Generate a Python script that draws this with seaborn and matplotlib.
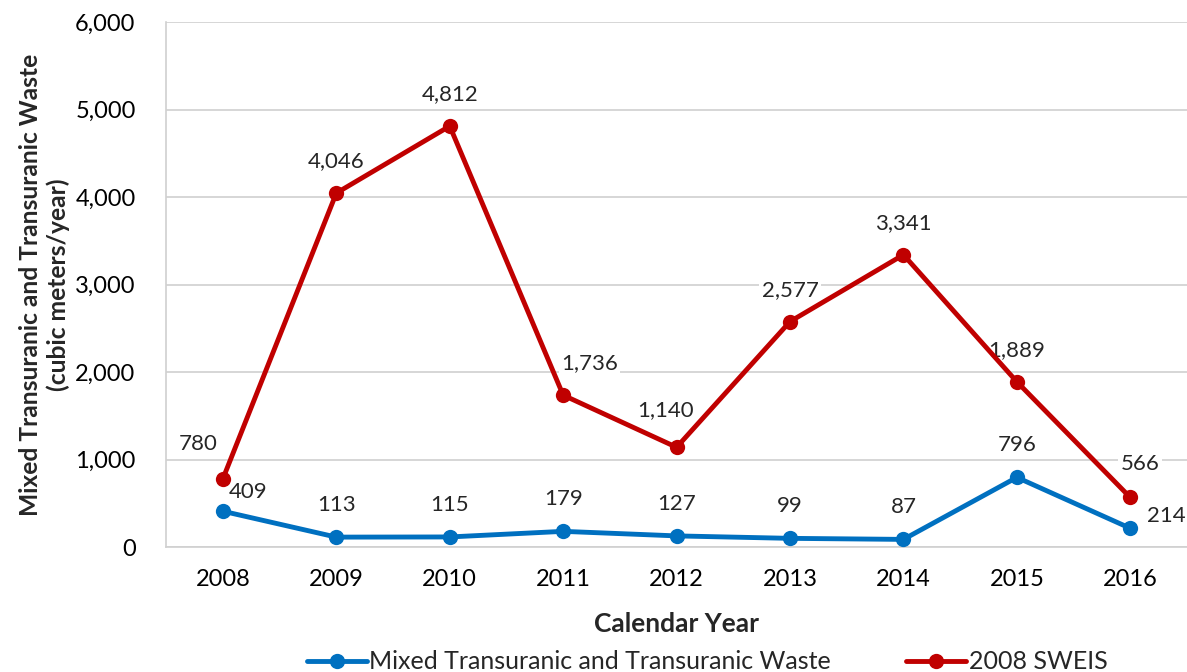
import matplotlib
matplotlib.use("Agg")
import matplotlib.pyplot as plt
import seaborn as sns
import pandas as pd

years = ["2008", "2009", "2010", "2011", "2012", "2013", "2014", "2015", "2016"]
mixed_tru = [409, 113, 115, 179, 127, 99, 87, 796, 214]
sweis_2008 = [780, 4046, 4812, 1736, 1140, 2577, 3341, 1889, 566]
series_names = ["Mixed Transuranic and Transuranic Waste", "2008 SWEIS"]
yticks = [0, 1000, 2000, 3000, 4000, 5000, 6000]

sns.set_theme(style="white")
plt.rcParams["font.family"] = ["Lato", "DejaVu Sans"]

df = pd.DataFrame({
    "Year": years * 2,
    "Value": mixed_tru + sweis_2008,
    "Series": [series_names[0]] * len(years) + [series_names[1]] * len(years),
})

fig = plt.figure(figsize=(11.87, 6.72), dpi=100)
ax = fig.add_axes([0.14, 0.186, 0.86, 0.781])

palette = {series_names[0]: "#0070C0", series_names[1]: "#C00000"}
sns.lineplot(data=df, x="Year", y="Value", hue="Series", palette=palette,
             marker="o", markersize=11, markeredgewidth=0, linewidth=3.5,
             sort=False, ax=ax, zorder=3)

ax.set_ylim(0, 6000)
ax.set_xlim(-0.5, len(years) - 0.5)
ax.set_yticks(yticks)
ax.set_yticklabels([f"{v:,}" for v in yticks])
ax.yaxis.grid(True, color="#D0D0D0", linewidth=1.2, zorder=0)
ax.xaxis.grid(False)
ax.set_axisbelow(True)
for s in ["top", "right"]:
    ax.spines[s].set_visible(False)
for s in ["left", "bottom"]:
    ax.spines[s].set_color("#D0D0D0")
    ax.spines[s].set_linewidth(1.2)
ax.tick_params(axis="both", labelsize=17, colors="black", length=0)
ax.tick_params(axis="y", pad=22)
ax.tick_params(axis="x", pad=16)

ax.set_xlabel("Calendar Year", fontsize=19, fontweight="bold", labelpad=16)
ax.set_ylabel("Mixed Transuranic and Transuranic Waste\n(cubic meters/year)",
              fontsize=17.7, fontweight="bold", labelpad=4, linespacing=1.2)

# data labels (offsets in points from the marker centre)
red_off = {0: (-18, 25), 3: (19, 23), 4: (-8, 27), 8: (7, 24)}
blue_off = {0: (18, 14), 8: (26, 9)}
box = dict(boxstyle="square,pad=0.1", fc="white", ec="none")
for i, v in enumerate(sweis_2008):
    dx, dy = red_off.get(i, (0, 23))
    ax.annotate(f"{v:,}", xy=(i, v), xytext=(dx, dy), textcoords="offset points",
                ha="center", va="center", fontsize=16, bbox=box, zorder=2)
for i, v in enumerate(mixed_tru):
    dx, dy = blue_off.get(i, (0, 23))
    ax.annotate(f"{v:,}", xy=(i, v), xytext=(dx, dy), textcoords="offset points",
                ha="center", va="center", fontsize=16, bbox=box, zorder=2)

ax.legend(loc="center", bbox_to_anchor=(0.53, -0.219), ncol=2, frameon=False,
          fontsize=18, handlelength=2.4, columnspacing=3.0, handletextpad=0.1)

fig.savefig("out.png", dpi=100)
